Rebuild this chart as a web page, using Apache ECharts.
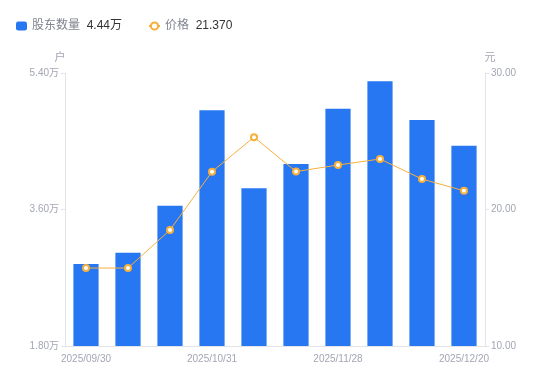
<!DOCTYPE html>
<html><head><meta charset="utf-8">
<script src="https://cdn.jsdelivr.net/npm/echarts@6/dist/echarts.min.js"></script>
<style>html,body{margin:0;padding:0;background:#fff}#c{width:550px;height:381px}</style>
</head><body><div id="c"></div>
<script>
const categories = ['2025/09/30','2025/10/10','2025/10/20','2025/10/31','2025/11/10','2025/11/20','2025/11/28','2025/12/05','2025/12/12','2025/12/20'];
const holders = [2.88, 3.03, 3.65, 4.91, 3.88, 4.20, 4.93, 5.29, 4.78, 4.44];
const prices = [15.71, 15.71, 18.50, 22.77, 25.30, 22.78, 23.26, 23.70, 22.23, 21.37];
const leftTicks = {min: 1.8, max: 5.4, interval: 1.8};
const rightTicks = {min: 10, max: 30, interval: 10};
const latest = {'股东数量': holders[holders.length-1].toFixed(2) + '万', '价格': prices[prices.length-1].toFixed(3)};

const font = '"Liberation Sans", "Noto Sans CJK SC", sans-serif';
const chart = echarts.init(document.getElementById('c'));
chart.setOption({
  animation: false,
  textStyle: {fontFamily: font},
  legend: {
    left: 11, top: 15, itemGap: 26, itemWidth: 11, itemHeight: 9,
    data: [{name: '股东数量', icon: 'roundRect'}, {name: '价格'}],
    formatter: n => '{n|' + n + '}  {v|' + latest[n] + '}',
    textStyle: {rich: {n: {color: '#80848f', fontSize: 12, fontFamily: font}, v: {color: '#333', fontSize: 12, fontFamily: font}}}
  },
  grid: {left: 65, right: 65, top: 73, bottom: 35},
  xAxis: {
    type: 'category', data: categories,
    axisLine: {lineStyle: {color: '#e3e4e8'}},
    axisTick: {show: false},
    axisLabel: {interval: 2, color: '#a3a6b4', fontSize: 10, margin: 8, fontFamily: font}
  },
  yAxis: [{
    type: 'value', name: '户', min: leftTicks.min, max: leftTicks.max, interval: leftTicks.interval,
    nameTextStyle: {color: '#a3a6b4', fontSize: 11, padding: [0, 10, 0, 0]}, nameGap: 10,
    axisLine: {show: true, lineStyle: {color: '#e3e4e8'}},
    axisTick: {show: true, length: 4, lineStyle: {color: '#e3e4e8'}},
    splitLine: {show: false},
    axisLabel: {color: '#a3a6b4', fontSize: 10, margin: 6, fontFamily: font, formatter: v => v.toFixed(2) + '万'}
  }, {
    type: 'value', name: '元', min: rightTicks.min, max: rightTicks.max, interval: rightTicks.interval,
    nameTextStyle: {color: '#a3a6b4', fontSize: 11, padding: [0, 0, 0, 10]}, nameGap: 10,
    axisLine: {show: true, lineStyle: {color: '#e3e4e8'}},
    axisTick: {show: true, length: 4, lineStyle: {color: '#e3e4e8'}},
    splitLine: {show: false},
    axisLabel: {color: '#a3a6b4', fontSize: 10, margin: 6, fontFamily: font, formatter: v => v.toFixed(2)}
  }],
  series: [{
    name: '股东数量', type: 'bar', yAxisIndex: 0, data: holders, barWidth: '60%',
    itemStyle: {color: '#2777f3'}
  }, {
    name: '价格', type: 'line', yAxisIndex: 1, data: prices,
    symbol: 'circle', symbolSize: 6, showAllSymbol: true,
    lineStyle: {color: '#f6b03b', width: 1},
    itemStyle: {color: '#fff', borderColor: '#f6b03b', borderWidth: 2}
  }]
});
</script></body></html>
